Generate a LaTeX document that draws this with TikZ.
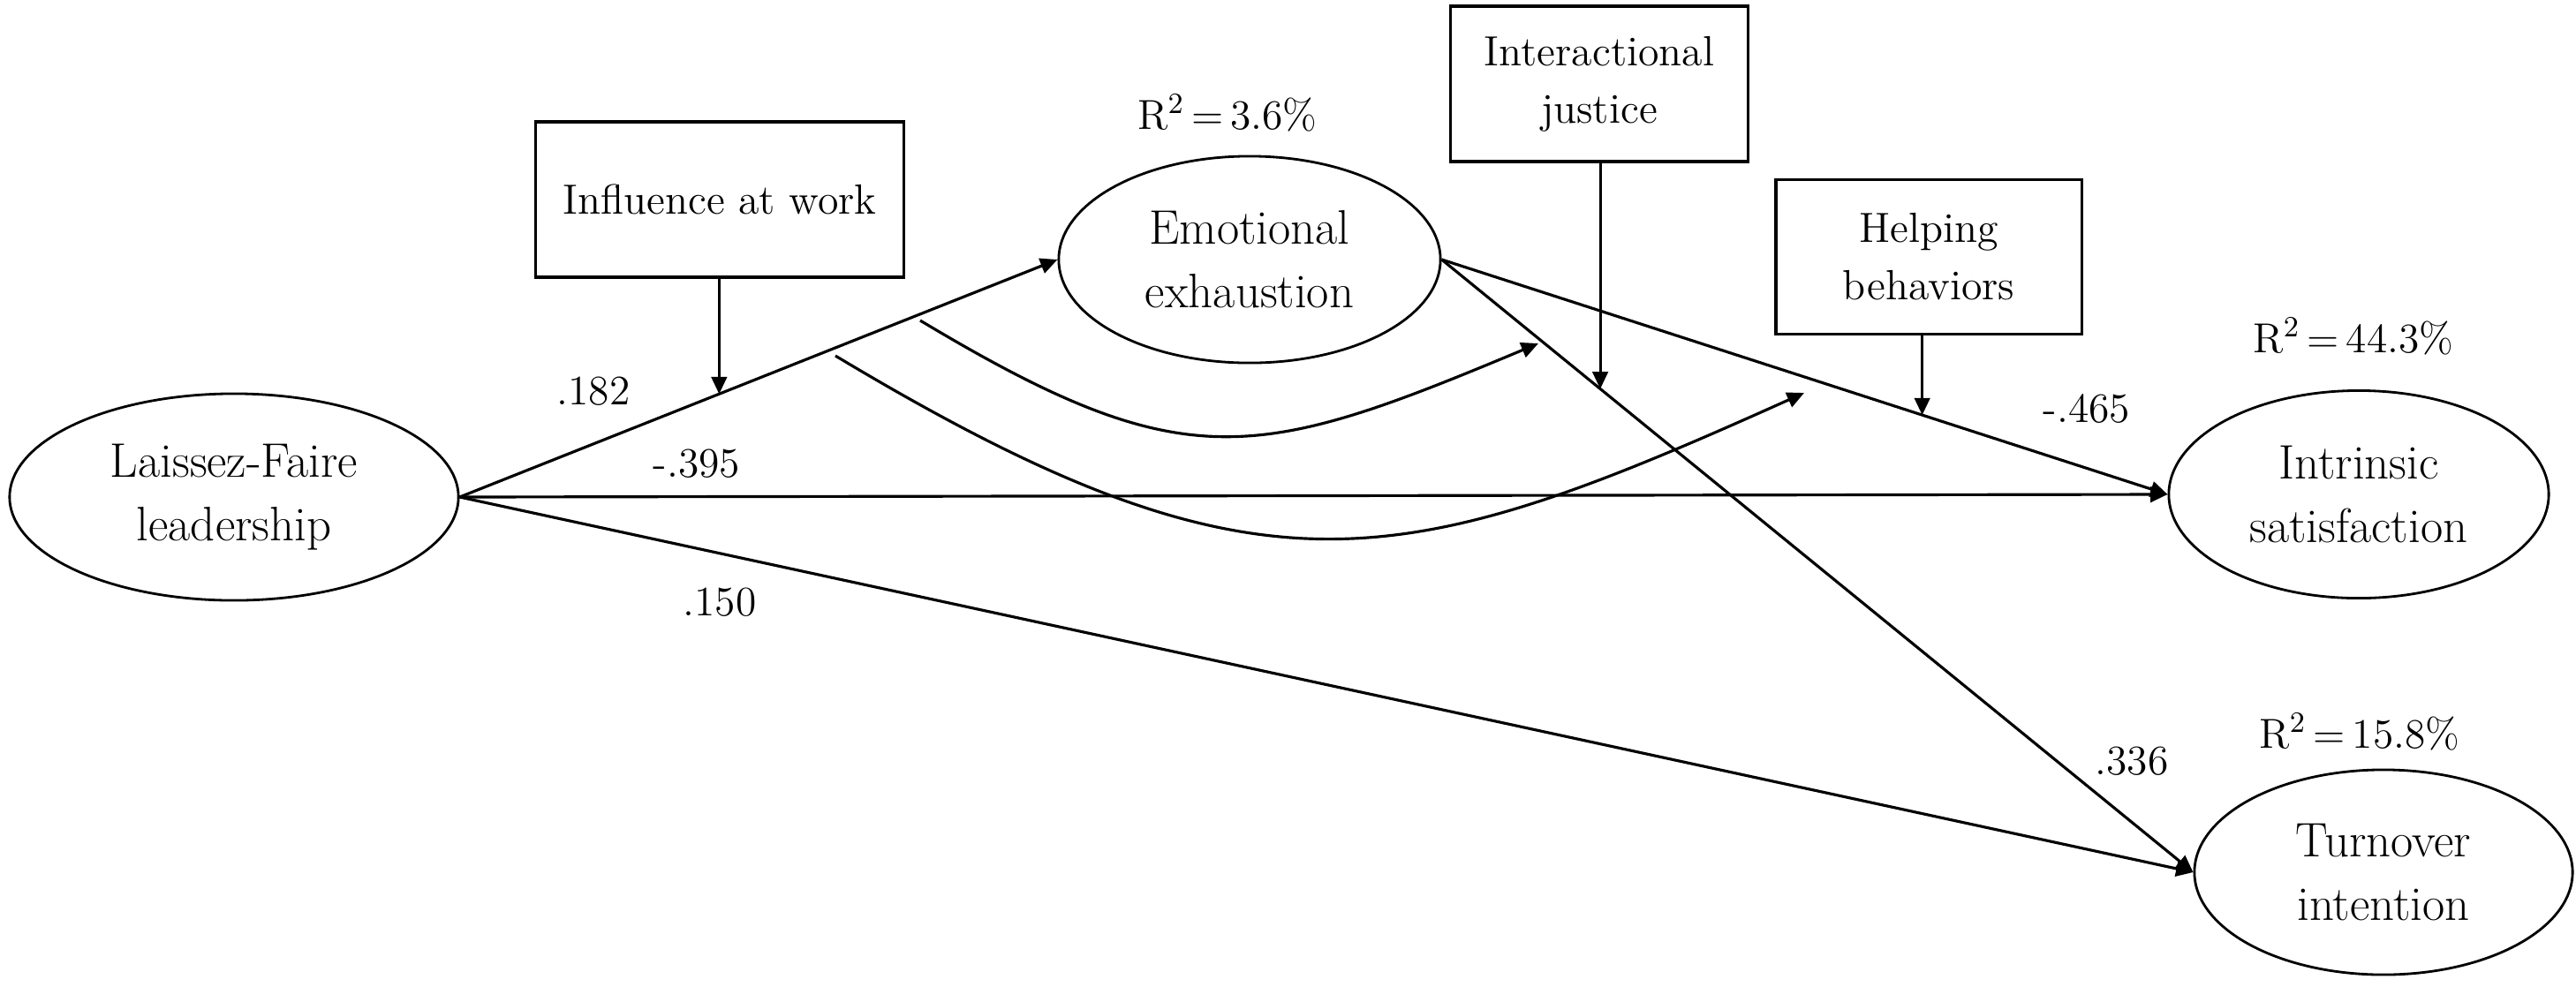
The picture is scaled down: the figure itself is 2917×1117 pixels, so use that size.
\documentclass[tikz,border=0pt]{standalone}
\usepackage{fontspec}
\usetikzlibrary{shapes.geometric,arrows.meta,calc}
\begin{document}
\begin{tikzpicture}[x=0.01cm,y=-0.01cm,
  lat/.style={draw, ellipse, line width=0.8pt, inner sep=0pt, align=center, font=\fontsize{15.6}{20.5}\selectfont},
  obs/.style={draw, rectangle, line width=0.9pt, inner sep=0pt, align=center, font=\fontsize{13.6}{18.5}\selectfont},
  arr/.style={line width=0.9pt, -{Triangle[length=5.5pt,width=5pt]}},
  modarr/.style={line width=0.8pt, -{Triangle[length=5.5pt,width=5pt]}},
  lbl/.style={font=\fontsize{13.5}{16}\selectfont, inner sep=0pt}]
\useasboundingbox (0,0) rectangle (2917,1117);

% latent variables
\node[lat, minimum width=5.08cm, minimum height=2.34cm] (LF) at (265,563) {Laissez-Faire\\leadership};
\node[lat, minimum width=4.32cm, minimum height=2.34cm] (EE) at (1415,294) {Emotional\\exhaustion};
\node[lat, minimum width=4.30cm, minimum height=2.35cm] (IS) at (2671,560) {Intrinsic\\satisfaction};
\node[lat, minimum width=4.28cm, minimum height=2.32cm] (TI) at (2699,988) {Turnover\\intention};

% moderators
\node[obs, minimum width=4.16cm, minimum height=1.76cm] (INF) at (815,226) {Influence at work};
\node[obs, minimum width=3.37cm, minimum height=1.76cm] (IJ) at (1811,95) {Interactional\\justice};
\node[obs, minimum width=3.46cm, minimum height=1.75cm] (HB) at (2184,291) {Helping\\behaviors};

% labels
\node[lbl] (r1) at (1390,128) {R\textsuperscript{2}\,=\,3.6\%};
\node[lbl] (r2) at (2665,381) {R\textsuperscript{2}\,=\,44.3\%};
\node[lbl] (r3) at (2672,829) {R\textsuperscript{2}\,=\,15.8\%};
\node[lbl] (b1) at (672,443) {.182};
\node[lbl] (b2) at (789,525) {-.395};
\node[lbl] (b3) at (815,682) {.150};
\node[lbl] (b4) at (2363,463) {-.465};
\node[lbl] (b5) at (2414,862) {.336};

% direct paths
\draw[arr] (LF.east) -- (EE.west);
\draw[arr] (LF.east) -- (IS.west);
\draw[arr] (LF.east) -- (TI.west);
\draw[arr] (EE.east) -- (IS.west);
\draw[arr] (EE.east) -- (TI.west);

% moderation points on paths
\coordinate (m1) at ($(LF.east)!0.434!(EE.west)$);
\coordinate (m2) at ($(EE.east)!0.211!(TI.west)$);
\coordinate (m3) at ($(EE.east)!0.662!(IS.west)$);
\draw[modarr] (INF.south -| m1) -- (m1);
\draw[modarr] (IJ.south -| m2) -- (m2);
\draw[modarr] (HB.south -| m3) -- (m3);

% indirect (curved) paths
\coordinate (ca0) at (1042,363);
\coordinate (ca1) at (1742,389);
\coordinate (cb0) at (946,403);
\coordinate (cb1) at (2043,445);
\draw[arr] (ca0) .. controls (1342,543) and (1422,523) .. (ca1);
\draw[arr] (cb0) .. controls (1426,691) and (1583,652) .. (cb1);
\end{tikzpicture}
\end{document}
